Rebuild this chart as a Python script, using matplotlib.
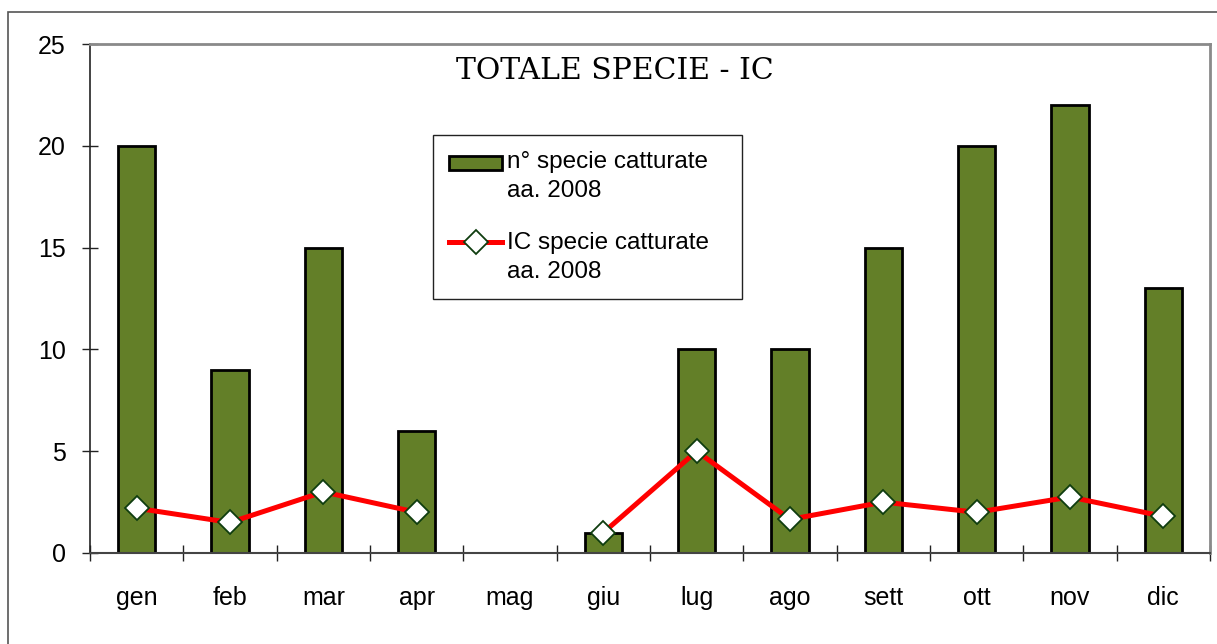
import numpy as np
import matplotlib
matplotlib.use("Agg")
import matplotlib.pyplot as plt
from matplotlib.patches import Rectangle
from matplotlib.legend_handler import HandlerPatch
from matplotlib.offsetbox import HPacker, TextArea

months = ["gen", "feb", "mar", "apr", "mag", "giu", "lug", "ago", "sett", "ott", "nov", "dic"]
n_specie = [20, 9, 15, 6, 0, 1, 10, 10, 15, 20, 22, 13]
ic_specie = [2.2, 1.5, 3.0, 2.0, np.nan, 1.0, 5.0, 1.65, 2.5, 2.0, 2.75, 1.8]
y_ticks = [0, 5, 10, 15, 20, 25]
title = "TOTALE SPECIE - IC"
label_bar = "n° specie catturate\naa. 2008"
label_line = "IC specie catturate\naa. 2008"

plt.rcParams['font.family'] = ['Liberation Sans', 'DejaVu Sans']
W, H = 1217, 644
fig = plt.figure(figsize=(W / 100, H / 100), dpi=100)

# outer frame
fig.patches.append(Rectangle((8 / W, -0.2), 2.0, 1 - 12 / H + 0.2, transform=fig.transFigure,
                             fill=False, edgecolor='#555555', linewidth=1.2))

ax = fig.add_axes([90 / W, 1 - 553 / H, (1210 - 90) / W, (553 - 44) / H])
x = np.arange(len(months))
bar_color = '#637f28'
bars = ax.bar(x, n_specie, width=0.40, color=bar_color, edgecolor='black', linewidth=2.0,
              zorder=2)
for b, v in zip(bars, n_specie):
    if v == 0:
        b.set_visible(False)
line, = ax.plot(x, ic_specie, color='#ff0000', linewidth=3.6, marker='D', markersize=12,
                markerfacecolor='white', markeredgecolor='#0f3d0f', markeredgewidth=1.3,
                zorder=3)

ax.set_xlim(-0.5, len(months) - 0.5)
ax.set_ylim(0, 25)
ax.set_yticks(y_ticks)
ax.set_xticks(x)
ax.set_xticklabels(months)
ax.set_xticks(np.arange(-0.5, len(months)), minor=True)
ax.tick_params(axis='x', which='major', length=0, pad=24, labelsize=18)
ax.tick_params(axis='x', which='minor', direction='inout', length=11, width=1.0, color='#222222')
ax.tick_params(axis='y', direction='inout', length=11, width=1.0, color='#222222', labelsize=18, pad=12)

for s in ['top', 'right']:
    ax.spines[s].set_color('#8a8a8a')
    ax.spines[s].set_linewidth(2.0)
ax.spines['left'].set_color('#222222')
ax.spines['left'].set_linewidth(1.2)
ax.spines['bottom'].set_color('#444444')
ax.spines['bottom'].set_linewidth(1.5)

fig.text(615 / W, 1 - 79 / H, title, ha='center', va='baseline', fontsize=21.5,
         family=['DejaVu Serif'], color='black')


def small_rect(legend, orig_handle, xdescent, ydescent, width, height, fontsize):
    h = 0.55 * fontsize
    return Rectangle((-xdescent, -ydescent + (height - h) / 2), width, h)


bar_proxy = Rectangle((0, 0), 1, 1, facecolor=bar_color, edgecolor='black', linewidth=2.0)
fs = 17.5
leg = fig.legend([bar_proxy, line], [label_bar, label_line],
                 handler_map={Rectangle: HandlerPatch(patch_func=small_rect)},
                 loc='upper left', bbox_to_anchor=(433 / W, 1 - 297 / H, (742 - 433) / W, (297 - 135) / H),
                 mode='expand', fontsize=fs,
                 frameon=True, fancybox=False, shadow=False, borderaxespad=0,
                 handlelength=2.2, handletextpad=0.2, labelspacing=1.2,
                 borderpad=0.65, handleheight=1.15)
leg.get_frame().set_edgecolor('#222222')
leg.get_frame().set_linewidth(1.0)
leg.get_frame().set_alpha(1)
for t in leg.get_texts():
    t.set_linespacing(1.45)


def set_top(box):
    for c in box.get_children():
        if isinstance(c, HPacker) and any(isinstance(k, TextArea) for k in c.get_children()):
            c.align = 'top'
        elif hasattr(c, 'get_children'):
            set_top(c)


set_top(leg._legend_box)

fig.savefig("out.png", dpi=100)
